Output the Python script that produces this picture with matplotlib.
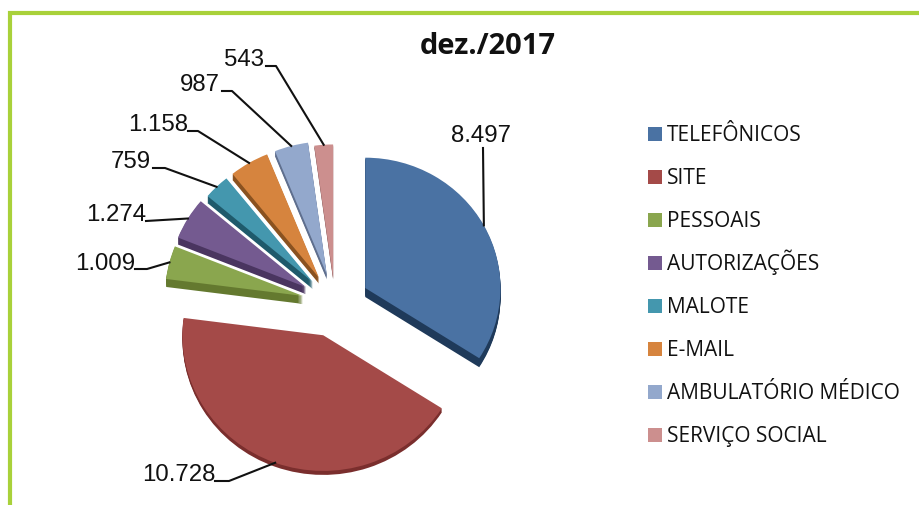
import matplotlib
matplotlib.use("Agg")
import matplotlib.pyplot as plt
import numpy as np
from matplotlib.patches import Rectangle, Wedge

# dados
categorias = ["TELEFÔNICOS", "SITE", "PESSOAIS", "AUTORIZAÇÕES", "MALOTE",
              "E-MAIL", "AMBULATÓRIO MÉDICO", "SERVIÇO SOCIAL"]
valores = [8497, 10728, 1009, 1274, 759, 1158, 987, 543]
rotulos = ["8.497", "10.728", "1.009", "1.274", "759", "1.158", "987", "543"]

cores = ["#4A72A3", "#A44A48", "#8AA64E", "#745A90", "#4497AE", "#D6843E", "#93A8CC", "#CC8F8E"]
cores_lado = ["#1F3A5A", "#7A2E2D", "#64792F", "#4A3560", "#1F5A6B", "#8A5220", "#5F6F8E", "#8E5F5E"]
explosao = [0.25, 0.25, 0.24, 0.245, 0.23, 0.23, 0.23, 0.2]
profundidade = [9, 4, 8, 7, 7, 6, 5, 2]
raios = [0.98, 1.02, 1, 1, 1, 1, 1, 1]

# pizza achatada: escala em px por unidade do raio
W, H = 920, 505
CX, CY, RX, RY = 335, 304, 138, 133


def px(x, y):
    return (x - CX) / RX, (CY - y) / RY


fig = plt.figure(figsize=(W / 100, H / 100), dpi=100)
ax = fig.add_axes([0, 0, 1, 1])

fatias, _ = ax.pie(valores, explode=explosao, colors=cores, startangle=90, counterclock=False,
                   wedgeprops={"linewidth": 0, "zorder": 3})
ax.set_aspect("auto")
ax.set_xlim(-CX / RX, (W - CX) / RX)
ax.set_ylim((CY - H) / RY, CY / RY)
ax.axis("off")

# lateral 3D
for fatia, cor, prof, raio in zip(fatias, cores_lado, profundidade, raios):
    fatia.set_radius(raio)
    for k in range(1, prof + 1):
        ax.add_patch(Wedge((fatia.center[0], fatia.center[1] - k / RY), raio, fatia.theta1, fatia.theta2,
                           fc=cor, lw=0, zorder=2))

# rotulos: posicao do texto e cotovelo da linha, em px
pos_texto = [(481, 136, "center"), (215, 475, "right"), (135, 264, "right"), (146, 215, "right"),
             (151, 162, "right"), (188, 125, "right"), (220, 85, "right"), (264, 60, "right")]
cotovelos = [[(483, 148)], [(215, 481), (229, 481)], [(135, 269), (147, 269)], [(146, 221)],
             [(153, 168), (165, 168)], [(188, 131), (198, 131)], [(222, 91), (232, 91)], [(266, 66), (276, 66)]]

for fatia, rot, (tx, ty, ha), cot, raio in zip(fatias, rotulos, pos_texto, cotovelos, raios):
    ax.text(*px(tx, ty), rot, ha=ha, va="center", fontsize=17.3, family="Liberation Sans", color="#111111")
    ang = np.deg2rad((fatia.theta1 + fatia.theta2) / 2)
    fim = (fatia.center[0] + raio * np.cos(ang), fatia.center[1] + raio * np.sin(ang))
    pts = [px(*p) for p in cot] + [fim]
    ax.plot([p[0] for p in pts], [p[1] for p in pts], color="#111111", lw=1.5, zorder=4)

ax.text(*px(488, 47), "dez./2017", ha="center", va="center", fontsize=21, fontweight="bold",
        family="Open Sans", color="#111111")

# legenda
for i, (cat, cor) in enumerate(zip(categorias, cores)):
    y = 134 + 43 * i
    ax.add_patch(Rectangle(px(648, y + 7), 14 / RX, 14 / RY, fc=cor, lw=0))
    ax.text(*px(667, y + 7), cat, ha="left", va="baseline", fontsize=15, family="Open Sans", color="#111111")

# moldura verde
ax.add_patch(Rectangle(px(10, 600), (W + 100) / RX, 587 / RY, fc="none", ec="#A9D13A", lw=3, zorder=5))

fig.savefig("out.png", dpi=100)
